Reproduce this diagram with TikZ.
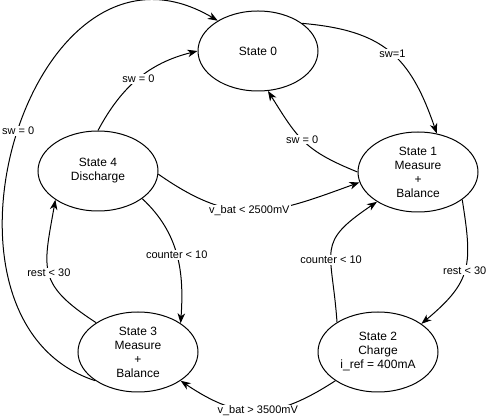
\documentclass[tikz,border=0pt]{standalone}
\usepackage{fontspec}
\setmainfont{Liberation Sans}
\usetikzlibrary{arrows.meta,shapes.geometric}

\begin{document}
\begin{tikzpicture}[x=1pt,y=1pt,line width=1pt,
  state/.style={ellipse,draw,fill=white,minimum width=120pt,
    minimum height=80pt,inner sep=0pt,align=center,
    font=\fontsize{12}{14}\selectfont},
  lbl/.style={fill=white,inner sep=1pt,font=\fontsize{11}{13}\selectfont},
  trans/.style={-{Stealth[length=10pt,width=7.5pt,inset=3pt]}}]
  \useasboundingbox (0,0) rectangle (490,-419);%

  %% the five states
  \node[state] (s0) at (258,-51) {State 0};%
  \node[state] (s1) at (418,-172) {State 1\\Measure\\+\\Balance};%
  \node[state] (s2) at (378,-352) {State 2\\Charge\\i\_ref = 400mA};%
  \node[state] (s3) at (138,-352) {State 3\\Measure\\+\\Balance};%
  \node[state] (s4) at (98,-171) {State 4\\Discharge};%

  %% transitions
  \draw[trans] (s0.32) to[out=-5,in=109,looseness=1.2]
  node[lbl,pos=.52] {sw=1} (s1.64);%
  \draw[trans] (s1.180) to[out=158,in=-58,looseness=1.2]
  node[lbl,pos=.53] {sw = 0} (s0.284);%
  \draw[trans] (s4.90) to[out=62,in=194]
  node[lbl,pos=.5] {sw = 0} (s0.180);%
  \draw[trans] (s3.214) .. controls +(-186,60) and +(-188,111) ..
  node[lbl,pos=.51] {sw = 0} (s0.143);%
  \draw[trans] (s4.-3) to[out=-35,in=200,looseness=1.2]
  node[lbl,pos=.47] {v\_bat < 2500mV} (s1.190);%
  \draw[trans] (s4.-32) to[out=-43,in=86]
  node[lbl,pos=.5] {counter < 10} (s3.34);%
  \draw[trans] (s3.145) to[out=147,in=260,looseness=1.4]
  node[lbl,pos=.5] {rest < 30} (s4.214);%
  \draw[trans] (s2.214) to[out=213,in=-34,looseness=1.2]
  node[lbl,pos=.5] {v\_bat > 3500mV} (s3.-34);%
  \draw[trans] (s2.144) to[out=94,in=214,looseness=1.5]
  node[lbl,pos=.4] {counter < 10} (s1.216);%
  \draw[trans] (s1.-32) to[out=-81,in=40,looseness=1.3]
  node[lbl,pos=.5] {rest < 30} (s2.33);%
\end{tikzpicture}
\end{document}
